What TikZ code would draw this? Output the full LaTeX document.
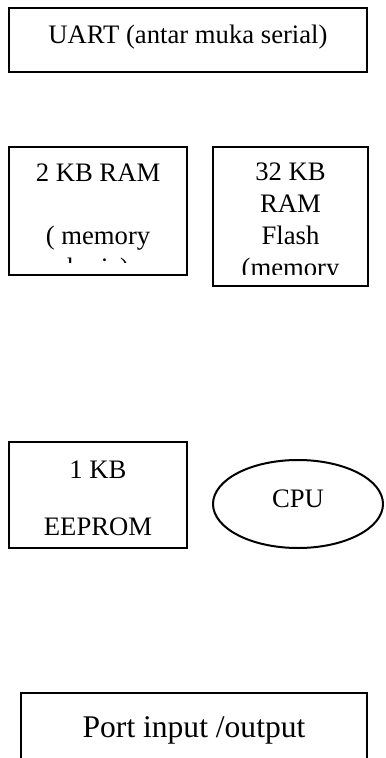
\documentclass[tikz,border=0pt]{standalone}
\usepackage{fontspec}
\setmainfont{Liberation Serif}
\usepackage{tikz}
\usetikzlibrary{shapes.geometric, positioning}
\tikzset{
  box/.style={rectangle, draw=black, line width=0.9pt, inner sep=0pt},
  cpubox/.style={ellipse, draw=black, line width=0.9pt, inner sep=0pt},
  txt/.style={anchor=base, inner sep=0pt, font=\fontsize{12}{14.4}\selectfont},
  bigtxt/.style={anchor=base, inner sep=0pt, font=\fontsize{14.2}{17}\selectfont}
}
\begin{document}
\begin{tikzpicture}[x=0.45pt, y=-0.45pt]
  \clip (0,0) rectangle (385,758);

  % serial interface
  \node[box, minimum width=161.1pt, minimum height=28.8pt] (uart) at (188,40) {};
  \node[txt] (uarttxt) at (188,44) {UART (antar muka serial)};

  % working memory
  \node[box, minimum width=80.1pt, minimum height=57.6pt] (sram) at (98,211) {};
  \begin{scope}
    \clip (9,147) rectangle (187,263);
    \node[txt] (sramA) at (98,182) {2 KB RAM};
    \node[txt] (sramB) at (98,245) {( memory};
    \node[txt] (sramC) at (98,277) {kerja)};
  \end{scope}

  % flash memory
  \node[box, minimum width=69.75pt, minimum height=62.55pt] (flash) at (290.5,216.5) {};
  \begin{scope}
    \clip (213,147) rectangle (368,275);
    \node[txt] (flashA) at (290.5,181) {32 KB};
    \node[txt] (flashB) at (290.5,213) {RAM};
    \node[txt] (flashC) at (290.5,245) {Flash};
    \node[txt] (flashD) at (290.5,277) {(memory};
  \end{scope}

  % eeprom
  \node[box, minimum width=80.1pt, minimum height=47.7pt] (eeprom) at (98,495) {};
  \node[txt] (eepromA) at (98,478) {1 KB};
  \node[txt] (eepromB) at (98,535) {EEPROM};

  % processor
  \node[cpubox, minimum width=76.5pt, minimum height=39.6pt] (cpu) at (298,504) {};
  \node[txt] (cputxt) at (298,507) {CPU};

  % i/o port
  \node[box, minimum width=155.7pt, minimum height=39.15pt] (port) at (194,736.5) {};
  \node[bigtxt] (porttxt) at (194,737) {Port input /output};
\end{tikzpicture}
\end{document}
